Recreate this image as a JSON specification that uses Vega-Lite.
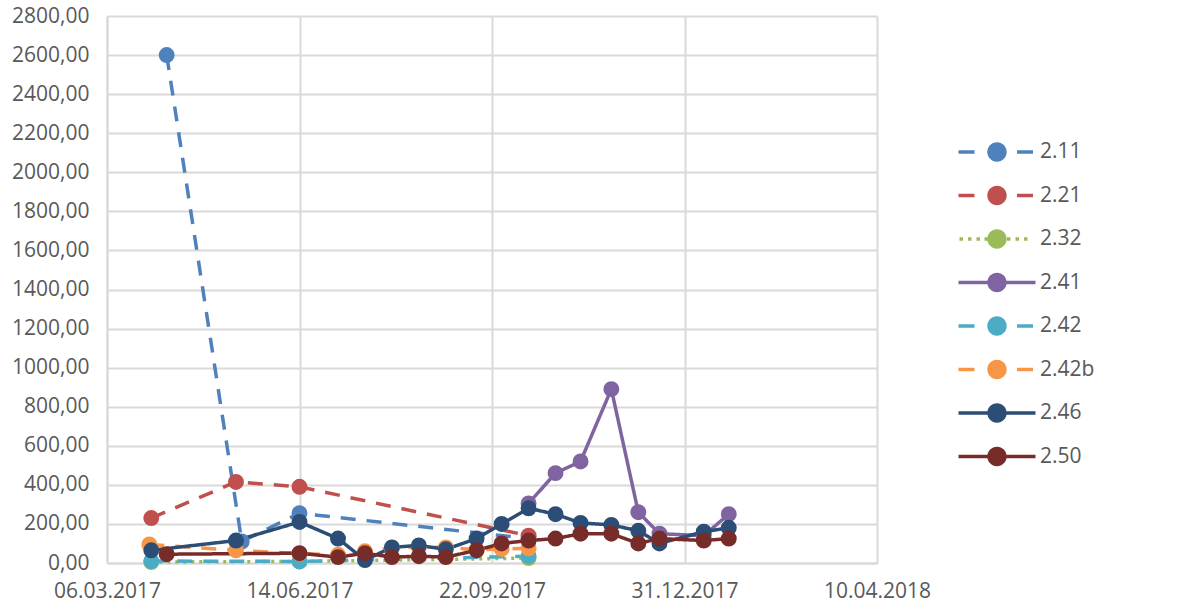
{
  "$schema": "https://vega.github.io/schema/vega-lite/v6.json",
  "autosize": {"type": "none"},
  "width": 770,
  "height": 547,
  "padding": {"left": 107, "top": 16, "right": 312, "bottom": 42},
  "background": "white",
  "config": {
    "view": {"stroke": null},
    "locale": {"number": {"decimal": ",", "thousands": ".", "grouping": [3], "currency": ["", " €"]}},
    "axis": {
      "labelFont": "Open Sans",
      "labelFontSize": 21,
      "labelColor": "#595959",
      "gridColor": "#D9D9D9",
      "gridWidth": 2,
      "domainColor": "#D9D9D9",
      "domainWidth": 2,
      "ticks": false,
      "title": null
    }
  },
  "data": {
    "values": [
      {"series": "2.11", "date": "2017-04-06", "value": 2600},
      {"series": "2.11", "date": "2017-05-15", "value": 110},
      {"series": "2.11", "date": "2017-06-14", "value": 255},
      {"series": "2.11", "date": "2017-10-11", "value": 125},
      {"series": "2.21", "date": "2017-03-29", "value": 230},
      {"series": "2.21", "date": "2017-05-12", "value": 415},
      {"series": "2.21", "date": "2017-06-14", "value": 390},
      {"series": "2.21", "date": "2017-10-11", "value": 140},
      {"series": "2.32", "date": "2017-03-29", "value": 5},
      {"series": "2.32", "date": "2017-06-14", "value": 8},
      {"series": "2.32", "date": "2017-10-11", "value": 25},
      {"series": "2.41", "date": "2017-10-11", "value": 305},
      {"series": "2.41", "date": "2017-10-25", "value": 460},
      {"series": "2.41", "date": "2017-11-07", "value": 520},
      {"series": "2.41", "date": "2017-11-23", "value": 890},
      {"series": "2.41", "date": "2017-12-07", "value": 260},
      {"series": "2.41", "date": "2017-12-18", "value": 150},
      {"series": "2.41", "date": "2018-01-10", "value": 140},
      {"series": "2.41", "date": "2018-01-23", "value": 250},
      {"series": "2.42", "date": "2017-03-29", "value": 10},
      {"series": "2.42", "date": "2017-06-14", "value": 8},
      {"series": "2.42", "date": "2017-10-11", "value": 35},
      {"series": "2.42b", "date": "2017-03-28", "value": 95},
      {"series": "2.42b", "date": "2017-05-12", "value": 65},
      {"series": "2.42b", "date": "2017-06-14", "value": 48},
      {"series": "2.42b", "date": "2017-07-04", "value": 42},
      {"series": "2.42b", "date": "2017-07-18", "value": 60},
      {"series": "2.42b", "date": "2017-08-01", "value": 78},
      {"series": "2.42b", "date": "2017-08-15", "value": 80},
      {"series": "2.42b", "date": "2017-08-29", "value": 80},
      {"series": "2.42b", "date": "2017-09-14", "value": 68},
      {"series": "2.42b", "date": "2017-09-27", "value": 72},
      {"series": "2.42b", "date": "2017-10-11", "value": 75},
      {"series": "2.46", "date": "2017-03-29", "value": 65},
      {"series": "2.46", "date": "2017-05-12", "value": 115},
      {"series": "2.46", "date": "2017-06-14", "value": 210},
      {"series": "2.46", "date": "2017-07-04", "value": 125},
      {"series": "2.46", "date": "2017-07-18", "value": 15},
      {"series": "2.46", "date": "2017-08-01", "value": 80},
      {"series": "2.46", "date": "2017-08-15", "value": 90},
      {"series": "2.46", "date": "2017-08-29", "value": 70},
      {"series": "2.46", "date": "2017-09-14", "value": 125},
      {"series": "2.46", "date": "2017-09-27", "value": 200},
      {"series": "2.46", "date": "2017-10-11", "value": 280},
      {"series": "2.46", "date": "2017-10-25", "value": 250},
      {"series": "2.46", "date": "2017-11-07", "value": 205},
      {"series": "2.46", "date": "2017-11-23", "value": 195},
      {"series": "2.46", "date": "2017-12-07", "value": 165},
      {"series": "2.46", "date": "2017-12-18", "value": 100},
      {"series": "2.46", "date": "2018-01-10", "value": 160},
      {"series": "2.46", "date": "2018-01-23", "value": 180},
      {"series": "2.50", "date": "2017-04-06", "value": 45},
      {"series": "2.50", "date": "2017-06-14", "value": 50},
      {"series": "2.50", "date": "2017-07-04", "value": 30},
      {"series": "2.50", "date": "2017-07-18", "value": 50},
      {"series": "2.50", "date": "2017-08-01", "value": 30},
      {"series": "2.50", "date": "2017-08-15", "value": 35},
      {"series": "2.50", "date": "2017-08-29", "value": 30},
      {"series": "2.50", "date": "2017-09-14", "value": 65},
      {"series": "2.50", "date": "2017-09-27", "value": 100},
      {"series": "2.50", "date": "2017-10-11", "value": 115},
      {"series": "2.50", "date": "2017-10-25", "value": 125},
      {"series": "2.50", "date": "2017-11-07", "value": 150},
      {"series": "2.50", "date": "2017-11-23", "value": 150},
      {"series": "2.50", "date": "2017-12-07", "value": 100},
      {"series": "2.50", "date": "2017-12-18", "value": 125},
      {"series": "2.50", "date": "2018-01-10", "value": 115},
      {"series": "2.50", "date": "2018-01-23", "value": 125}
    ]
  },
  "encoding": {
    "x": {
      "field": "date",
      "type": "temporal",
      "scale": {"type": "utc", "domain": [1488758400000, 1523318400000]},
      "axis": {
        "values": [1488758400000, 1497398400000, 1506038400000, 1514678400000, 1523318400000],
        "format": "%d.%m.%Y",
        "labelFlush": false,
        "labelOverlap": false,
        "labelPadding": 17,
        "grid": true
      }
    },
    "y": {
      "field": "value",
      "type": "quantitative",
      "scale": {"domain": [0, 2800], "nice": false, "zero": true},
      "axis": {
        "values": [0, 200, 400, 600, 800, 1000, 1200, 1400, 1600, 1800, 2000, 2200, 2400, 2600, 2800],
        "format": ".2f",
        "labelPadding": 18,
        "grid": true
      }
    },
    "color": {
      "field": "series",
      "type": "nominal",
      "scale": {
        "domain": ["2.11", "2.21", "2.32", "2.41", "2.42", "2.42b", "2.46", "2.50"],
        "range": ["#4F81BD", "#C0504D", "#9BBB59", "#8064A2", "#4BACC6", "#F79646", "#2C4D75", "#772C2A"]
      },
      "legend": {
        "orient": "none",
        "legendX": 879.5,
        "legendY": 125.5,
        "title": null,
        "symbolSize": 400,
        "symbolStrokeWidth": 0,
        "labelOffset": 32.5,
        "rowPadding": 21.5,
        "labelFont": "Open Sans",
        "labelFontSize": 21,
        "labelColor": "#595959",
        "encode": {
          "symbols": {
            "update": {
              "shape": {"signal": "(datum.value === '2.32' ? 'M-3.75,-0.17H-3.4V0.17H-3.75ZM-2.9,-0.17H-2.55V0.17H-2.9ZM-2.05,-0.17H-1.7V0.17H-2.05ZM-1.25,-0.17H-0.95V0.17H-1.25ZM1.0,-0.17H1.35V0.17H1.0ZM1.85,-0.17H2.2V0.17H1.85ZM2.7,-0.17H3.05V0.17H2.7Z' : (datum.value === '2.41' || datum.value === '2.46' || datum.value === '2.50') ? 'M-3.85,-0.17H-0.96V0.17H-3.85ZM0.96,-0.17H3.85V0.17H0.96Z' : 'M-3.85,-0.17H-2.25V0.17H-3.85ZM2.0,-0.17H3.6V0.17H2.0Z') + 'M0.97,0A0.97,0.97,0,1,1,-0.97,0A0.97,0.97,0,1,1,0.97,0Z'"},
              "fill": {"scale": "color", "field": "value"},
              "stroke": {"value": "transparent"},
              "strokeWidth": {"value": 0},
              "opacity": {"value": 1}
            }
          }
        }
      }
    }
  },
  "layer": [
    {
      "mark": {"type": "line", "strokeWidth": 3.5, "strokeJoin": "round"},
      "encoding": {
        "strokeDash": {
          "field": "series",
          "type": "nominal",
          "scale": {
            "domain": ["2.11", "2.21", "2.32", "2.41", "2.42", "2.42b", "2.46", "2.50"],
            "range": [[15, 11], [15, 11], [3, 5], [1, 0], [15, 11], [15, 11], [1, 0], [1, 0]]
          },
          "legend": null
        }
      }
    },
    {
      "mark": {"type": "point", "filled": true, "size": 254, "opacity": 1}
    }
  ]
}
